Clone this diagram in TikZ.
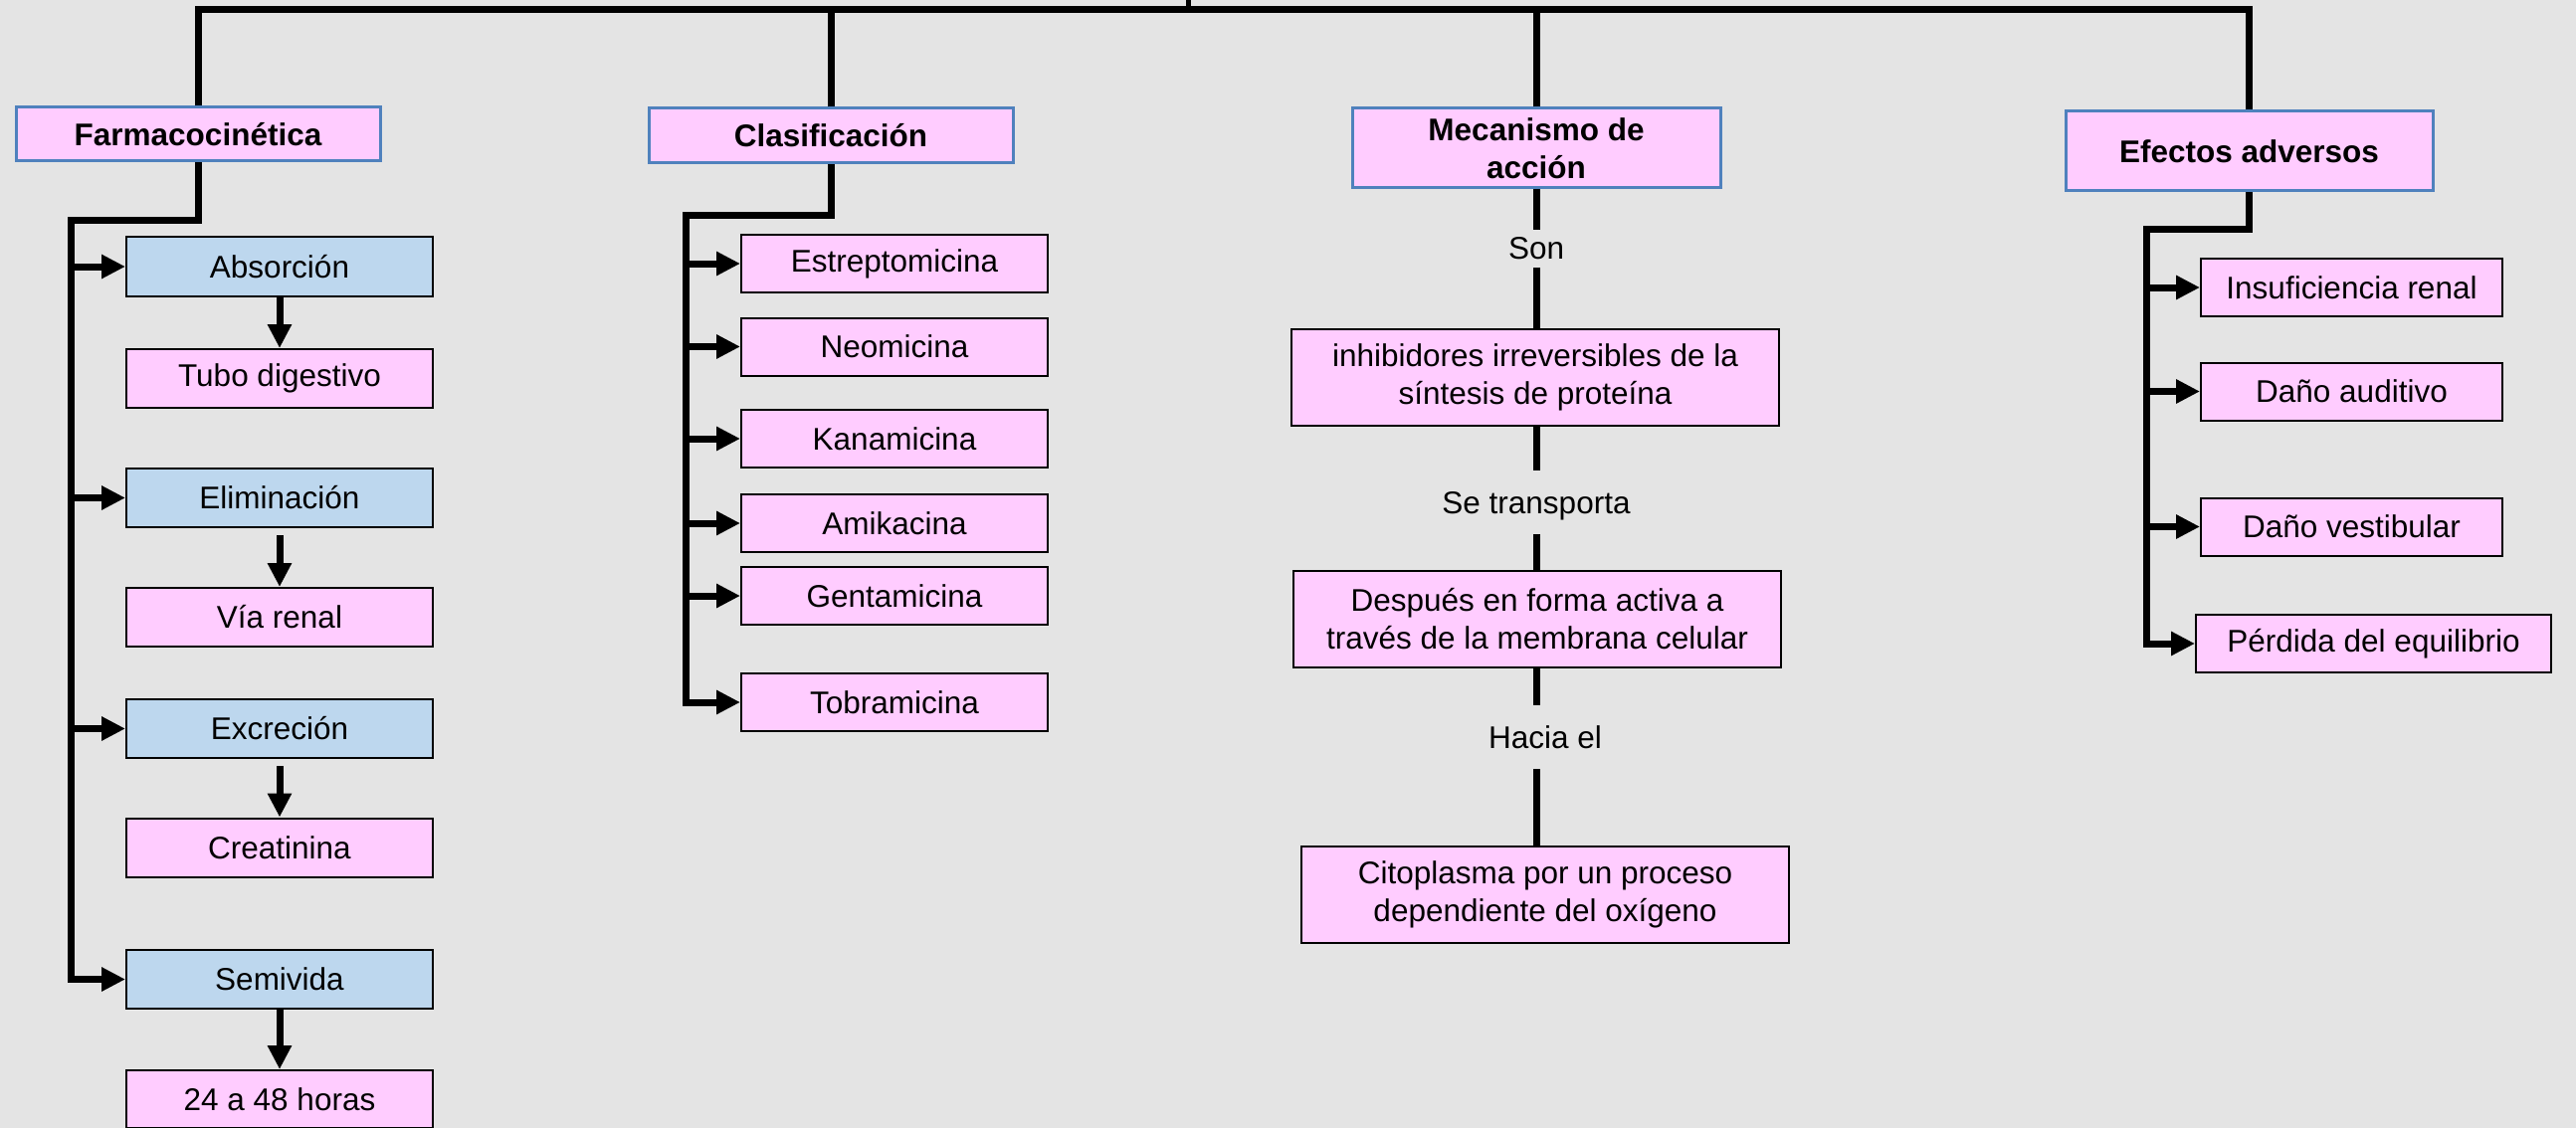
\documentclass[tikz,border=0pt]{standalone}
\usepackage{fontspec}
\setmainfont{Liberation Sans}
\usetikzlibrary{arrows.meta}
\definecolor{bg}{HTML}{E4E4E4}
\definecolor{pinkf}{HTML}{FFCCFF}
\definecolor{bluef}{HTML}{BDD7EE}
\definecolor{hdrline}{HTML}{4F81BD}
\begin{document}
\begin{tikzpicture}[x=0.5pt,y=-0.5pt,
  base/.style={rectangle, inner sep=0pt, align=center, font=\fontsize{15.75}{19}\selectfont},
  sz/.style 2 args={minimum width=#1*0.5pt, minimum height=#2*0.5pt},
  hdr/.style={base, draw=hdrline, line width=1.5pt, fill=pinkf, font=\fontsize{15.75}{19}\selectfont\bfseries},
  pbox/.style={base, draw=black, line width=1pt, fill=pinkf},
  bbox/.style={base, draw=black, line width=1pt, fill=bluef},
  lbl/.style={base, text depth=0pt},
  conn/.style={line width=3.5pt, line join=miter},
  arr/.style={conn, -{Triangle[length=12pt,width=11.5pt]}},
]
\fill[bg] (0,0) rectangle (2589,1134);
\useasboundingbox (0,0) rectangle (2589,1134);

% headers
\node[hdr, sz={366}{54}] (farm) at (199,135) {Farmacocinética};
\node[hdr, sz={366}{55}] (clas) at (835,136.5) {Clasificación};
\node[hdr, sz={370}{80}] (meca) at (1544,149) {Mecanismo de\\acción};
\node[hdr, sz={369}{80}] (efec) at (2260.5,152) {Efectos adversos};

% Farmacocinetica
\node[bbox, sz={308}{59}] (abs)   at (281,268)   {Absorción};
\node[pbox, sz={308}{59}] (tubo)  at (281,380.5) {Tubo digestivo};
\node[bbox, sz={308}{59}] (elim)  at (281,500.5) {Eliminación};
\node[pbox, sz={308}{59}] (via)   at (281,620.5) {Vía renal};
\node[bbox, sz={308}{59}] (excr)  at (281,732.5) {Excreción};
\node[pbox, sz={308}{59}] (crea)  at (281,852)   {Creatinina};
\node[bbox, sz={308}{59}] (semi)  at (281,984.5) {Semivida};
\node[pbox, sz={308}{58}] (horas) at (281,1105)  {24 a 48 horas};

% Clasificacion
\node[pbox, sz={308}{58}] (estr) at (899,265)   {Estreptomicina};
\node[pbox, sz={308}{58}] (neo)  at (899,348.5) {Neomicina};
\node[pbox, sz={308}{58}] (kana) at (899,441)   {Kanamicina};
\node[pbox, sz={308}{58}] (amik) at (899,526)   {Amikacina};
\node[pbox, sz={308}{58}] (gent) at (899,599)   {Gentamicina};
\node[pbox, sz={308}{58}] (tobr) at (899,706)   {Tobramicina};

% Mecanismo
\node[lbl, sz={152}{38}] (son) at (1544,250) {Son};
\node[pbox, sz={490}{97}] (inhi) at (1543,379.5) {inhibidores irreversibles de la\\síntesis de proteína};
\node[lbl, sz={266}{64}] (setr) at (1544,505) {Se transporta};
\node[pbox, sz={490}{97}] (desp) at (1545,622.5) {Después en forma activa a\\través de la membrana celular};
\node[lbl, sz={262}{64}] (hacia) at (1553,741) {Hacia el};
\node[pbox, sz={490}{97}] (cito) at (1553,899.5) {Citoplasma por un proceso\\dependiente del oxígeno};

% Efectos adversos
\node[pbox, sz={303}{58}] (insu) at (2363.5,289)   {Insuficiencia renal};
\node[pbox, sz={303}{58}] (dana) at (2363.5,393.5) {Daño auditivo};
\node[pbox, sz={303}{58}] (vest) at (2363.5,529.5) {Daño vestibular};
\node[pbox, sz={357}{58}] (perd) at (2385.5,647)   {Pérdida del equilibrio};

% top bar
\coordinate (root) at (1194,0);
\coordinate (topbar) at (1194,10);
\draw[line width=2.5pt] (root) -- (topbar);
\draw[conn] (farm.north) -- (farm.north |- topbar) -- (efec.north |- topbar) -- (efec.north);
\draw[conn] (clas.north) -- (clas.north |- topbar);
\draw[conn] (meca.north) -- (meca.north |- topbar);

% Farmacocinetica tree
\coordinate (fk) at (71,222);
\draw[arr] (farm.south) -- (farm.south |- fk) -- (fk) -- (fk |- semi.west) -- (semi.west);
\draw[arr] (fk |- abs.west) -- (abs.west);
\draw[arr] (fk |- elim.west) -- (elim.west);
\draw[arr] (fk |- excr.west) -- (excr.west);
\draw[arr] (abs.south) -- (tubo.north);
\draw[arr, shorten <=3.5pt] (elim.south) -- (via.north);
\draw[arr, shorten <=3.5pt] (excr.south) -- (crea.north);
\draw[arr] (semi.south) -- (horas.north);

% Clasificacion tree
\coordinate (ck) at (689,217);
\draw[arr] (clas.south) -- (clas.south |- ck) -- (ck) -- (ck |- tobr.west) -- (tobr.west);
\draw[arr] (ck |- estr.west) -- (estr.west);
\draw[arr] (ck |- neo.west) -- (neo.west);
\draw[arr] (ck |- kana.west) -- (kana.west);
\draw[arr] (ck |- amik.west) -- (amik.west);
\draw[arr] (ck |- gent.west) -- (gent.west);

% Mecanismo chain
\draw[conn] (meca.south) -- (son.north);
\draw[conn] (son.south) -- (son.south |- inhi.north);
\draw[conn] (son.south |- inhi.south) -- (setr.north);
\draw[conn] (setr.south) -- (setr.south |- desp.north);
\draw[conn] (setr.south |- desp.south) -- (setr.south |- hacia.north);
\draw[conn] (setr.south |- hacia.south) -- (setr.south |- cito.north);

% Efectos tree
\coordinate (ek) at (2157,231);
\draw[arr] (efec.south) -- (efec.south |- ek) -- (ek) -- (ek |- perd.west) -- (perd.west);
\draw[arr] (ek |- insu.west) -- (insu.west);
\draw[arr] (ek |- dana.west) -- (dana.west);
\draw[arr] (ek |- vest.west) -- (vest.west);
\end{tikzpicture}
\end{document}
